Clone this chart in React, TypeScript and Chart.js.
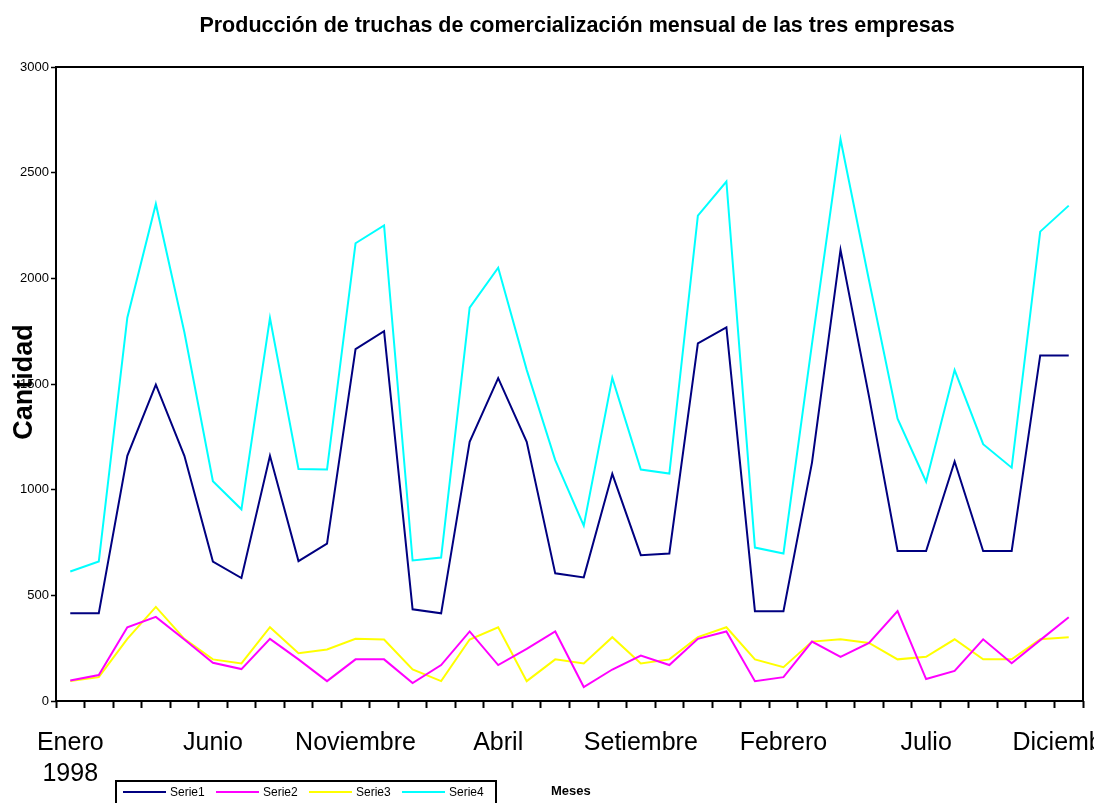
import React, { useEffect, useRef } from 'react';
import { Chart, registerables } from 'chart.js';

Chart.register(...registerables);

const categories = [
  'Enero 1998', 'Febrero 1998', 'Marzo 1998', 'Abril 1998', 'Mayo 1998', 'Junio 1998',
  'Julio 1998', 'Agosto 1998', 'Setiembre 1998', 'Octubre 1998', 'Noviembre 1998', 'Diciembre 1998',
  'Enero 1999', 'Febrero 1999', 'Marzo 1999', 'Abril 1999', 'Mayo 1999', 'Junio 1999',
  'Julio 1999', 'Agosto 1999', 'Setiembre 1999', 'Octubre 1999', 'Noviembre 1999', 'Diciembre 1999',
  'Enero 2000', 'Febrero 2000', 'Marzo 2000', 'Abril 2000', 'Mayo 2000', 'Junio 2000',
  'Julio 2000', 'Agosto 2000', 'Setiembre 2000', 'Octubre 2000', 'Noviembre 2000', 'Diciembre 2000',
];

const tickLabels: (string | string[])[] = [
  ['Enero', '1998'], '', '', '', '', 'Junio', '', '', '', '', 'Noviembre', '',
  '', '', '', 'Abril', '', '', '', '', 'Setiembre', '', '', '',
  '', 'Febrero', '', '', '', '', 'Julio', '', '', '', '', 'Diciembre',
];

const serie1 = [415, 415, 1160, 1497, 1160, 660, 582, 1160, 662, 745, 1665, 1750, 434, 415, 1226, 1528, 1226, 604, 585, 1075, 690, 698, 1692, 1768, 425, 425, 1128, 2135, 1440, 710, 710, 1133, 710, 710, 1635, 1635];
const serie2 = [97, 123, 349, 398, 291, 181, 151, 294, 197, 94, 197, 197, 85, 170, 329, 170, 247, 329, 66, 149, 215, 170, 294, 329, 94, 113, 281, 209, 275, 425, 104, 142, 292, 179, 288, 396];
const serie3 = [94, 113, 294, 445, 294, 197, 178, 349, 226, 244, 294, 291, 149, 94, 291, 349, 94, 197, 178, 302, 178, 197, 302, 349, 197, 160, 281, 292, 275, 197, 209, 292, 197, 197, 292, 302];
const serie4 = [613, 660, 1814, 2352, 1745, 1040, 907, 1812, 1098, 1095, 2166, 2250, 665, 679, 1861, 2050, 1567, 1140, 830, 1529, 1095, 1076, 2297, 2458, 726, 698, 1690, 2658, 1990, 1336, 1038, 1566, 1215, 1104, 2221, 2344];

const seriesNames = ['Serie1', 'Serie2', 'Serie3', 'Serie4'];
const seriesColors = ['#000080', '#FF00FF', '#FFFF00', '#00FFFF'];

const titleText = 'Producción de truchas de comercialización mensual de las tres empresas';
const yTitleText = 'Cantidad';
const xTitleText = 'Meses';

const FONT = '"Liberation Sans", Arial, sans-serif';

const decorPlugin = {
  id: 'decor',
  afterDraw(chart: any) {
    const { ctx, chartArea } = chart;
    ctx.save();
    ctx.strokeStyle = '#000';
    ctx.lineWidth = 2;
    ctx.strokeRect(chartArea.left, chartArea.top, chartArea.right - chartArea.left, chartArea.bottom - chartArea.top);
    ctx.fillStyle = '#000';
    ctx.font = `bold 21.5px ${FONT}`;
    ctx.textAlign = 'center';
    ctx.textBaseline = 'alphabetic';
    ctx.fillText(titleText, 577, 32);
    ctx.translate(25, 382);
    ctx.rotate(-Math.PI / 2);
    ctx.font = `bold 27px ${FONT}`;
    ctx.textBaseline = 'middle';
    ctx.fillText(yTitleText, 0, 0);
    ctx.restore();
  },
};

export default function App() {
  const ref = useRef<HTMLCanvasElement>(null);

  useEffect(() => {
    if (!ref.current) return;
    const chart = new Chart(ref.current, {
      type: 'line',
      data: {
        labels: categories,
        datasets: [serie1, serie2, serie3, serie4].map((d, i) => ({
          label: seriesNames[i],
          data: d,
          borderColor: seriesColors[i],
          backgroundColor: seriesColors[i],
          borderWidth: 2,
          pointRadius: 0,
          tension: 0,
          fill: false,
        })),
      },
      options: {
        responsive: false,
        animation: false,
        layout: { padding: { left: 0, top: 67, right: 11, bottom: 0 } },
        plugins: {
          legend: { display: false },
          title: { display: false },
          tooltip: { enabled: false },
        },
        scales: {
          x: {
            type: 'category',
            offset: true,
            border: { display: false },
            grid: {
              display: true,
              offset: true,
              drawOnChartArea: false,
              drawTicks: true,
              tickLength: 7,
              tickWidth: 2,
              tickColor: '#000',
              color: '#000',
            },
            ticks: {
              autoSkip: false,
              maxRotation: 0,
              minRotation: 0,
              padding: 19,
              color: '#000',
              font: { family: FONT, size: 25, lineHeight: 1.25 },
              callback: (_v: any, i: number) => tickLabels[i],
            },
            afterFit: (s: any) => {
              s.height = 102;
              s.paddingLeft = 0;
              s.paddingRight = 0;
            },
          },
          y: {
            min: 0,
            max: 3000,
            border: { display: false },
            grid: {
              drawOnChartArea: false,
              drawTicks: true,
              tickLength: 5,
              tickWidth: 1.5,
              tickColor: '#000',
            },
            ticks: {
              stepSize: 500,
              padding: 2,
              color: '#000',
              font: { family: FONT, size: 13 },
              callback: (v: any) => String(v),
            },
            afterFit: (s: any) => {
              s.width = 56;
              s.paddingTop = 0;
              s.paddingBottom = 0;
            },
          },
        },
      },
      plugins: [decorPlugin],
    });
    return () => chart.destroy();
  }, []);

  return (
    <div style={{ position: 'fixed', left: 0, top: 0, width: 1094, height: 803, overflow: 'hidden', background: '#fff' }}>
      <canvas ref={ref} width={1094} height={803} style={{ position: 'absolute', left: 0, top: 0 }} />
      <div
        style={{
          position: 'absolute', left: 115, top: 780, width: 382, height: 40,
          boxSizing: 'border-box', border: '2px solid #000', background: '#fff',
          fontFamily: FONT, fontSize: 12, color: '#000',
        }}
      >
        {seriesNames.map((n, i) => (
          <React.Fragment key={n}>
            <div style={{ position: 'absolute', left: 6 + i * 93, top: 9, width: 43, height: 2, background: seriesColors[i] }} />
            <div style={{ position: 'absolute', left: 53 + i * 93, top: 2, lineHeight: '16px', whiteSpace: 'nowrap' }}>{n}</div>
          </React.Fragment>
        ))}
      </div>
      <div style={{ position: 'absolute', left: 551, top: 783, fontFamily: FONT, fontSize: 13, fontWeight: 'bold', lineHeight: '16px', color: '#000' }}>
        {xTitleText}
      </div>
    </div>
  );
}
